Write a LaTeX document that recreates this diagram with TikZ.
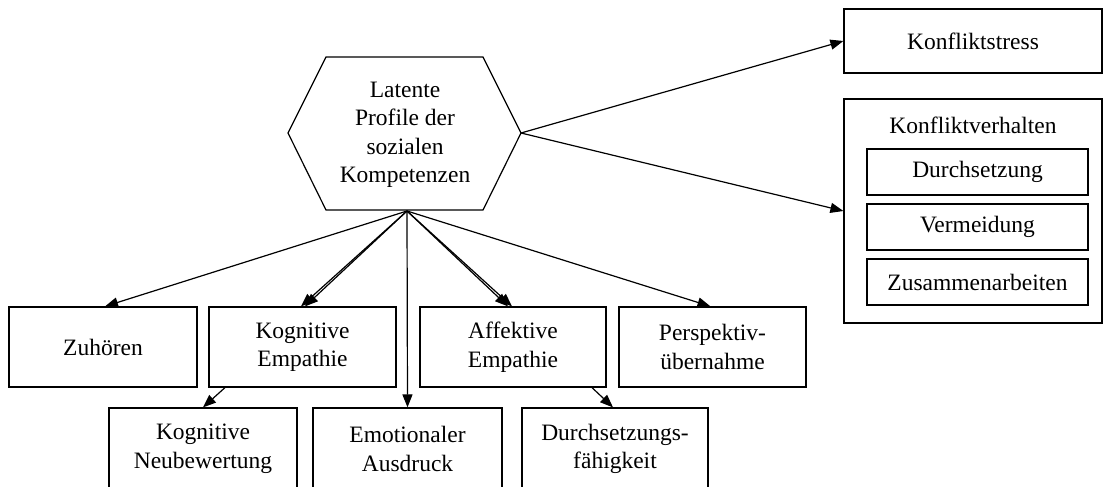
\documentclass[tikz,border=0pt]{standalone}
\usepackage{fontspec}
\setmainfont{Liberation Serif}
\usetikzlibrary{arrows.meta}
\begin{document}
\begin{tikzpicture}[x=1pt,y=-1pt,
  txt/.style={align=center, inner sep=0pt, font=\fontsize{23.5}{28.5}\selectfont},
  box/.style={txt, draw, line width=1.2pt},
  arr/.style={line width=1.2pt, -{Triangle[length=13pt,width=10pt]}},
]
\useasboundingbox (0,0) rectangle (1103,487);
% hexagon
\draw[line width=1.2pt] (288,133) -- (326,57) -- (483,57) -- (521,133) -- (483,210) -- (326,210) -- cycle;
\node[txt] (hex) at (405,135) {Latente\\Profile der\\sozialen\\Kompetenzen};
\coordinate (hb) at (407,211);
\coordinate (hr) at (521,133);
% row 1
\node[box, minimum width=188pt, minimum height=80pt] (zuh) at (103,347) {Zuhören};
\node[box, minimum width=187pt, minimum height=80pt] (kogemp) at (302.5,347) {Kognitive\\Empathie};
\node[box, minimum width=186pt, minimum height=80pt] (affemp) at (513,347) {Affektive\\Empathie};
\node[box, minimum width=187pt, minimum height=80pt] (persp) at (712.5,347) {Perspektiv-\\übernahme};
% row 2 (bottom edges fall just outside the picture)
\node[box, minimum width=188pt, minimum height=82pt] (neubew) at (203,449) {Kognitive\\Neubewertung};
\node[box, minimum width=189pt, minimum height=82pt] (emot) at (407.5,449) {Emotionaler\\Ausdruck};
\node[box, minimum width=186pt, minimum height=82pt] (durch) at (615,449) {Durchsetzungs-\\fähigkeit};
% right side
\node[box, minimum width=258pt, minimum height=64pt] (kstress) at (973,41) {Konfliktstress};
\node[box, minimum width=258pt, minimum height=224pt] (kverh) at (973,211) {};
\node[txt] (kvlabel) at (973,125) {Konfliktverhalten};
\node[box, minimum width=221pt, minimum height=46pt] (dsz) at (977.5,172) {Durchsetzung};
\node[box, minimum width=221pt, minimum height=46pt] (verm) at (977.5,227) {Vermeidung};
\node[box, minimum width=221pt, minimum height=46pt] (zus) at (977.5,282) {Zusammenarbeiten};
% edges
\draw[arr] (hb) -- ([xshift=2pt]zuh.north);
\draw[arr] (hb) -- ([xshift=-1.5pt]kogemp.north);
\draw[arr] (hb) -- ([xshift=2.5pt]kogemp.north);
\draw[arr] (hb) -- (emot.north);
\draw[arr] (hb) -- ([xshift=-5pt]affemp.north);
\draw[arr] (hb) -- ([xshift=-1pt]affemp.north);
\draw[arr] (hb) -- ([xshift=-2pt]persp.north);
\draw[arr] ([xshift=-77.5pt]kogemp.south) -- (neubew.north);
\draw[arr] ([xshift=79pt]affemp.south) -- ([xshift=-2pt]durch.north);
\draw[arr] (hr) -- (kstress.west);
\draw[arr] (hr) -- (kverh.west);
\end{tikzpicture}
\end{document}
